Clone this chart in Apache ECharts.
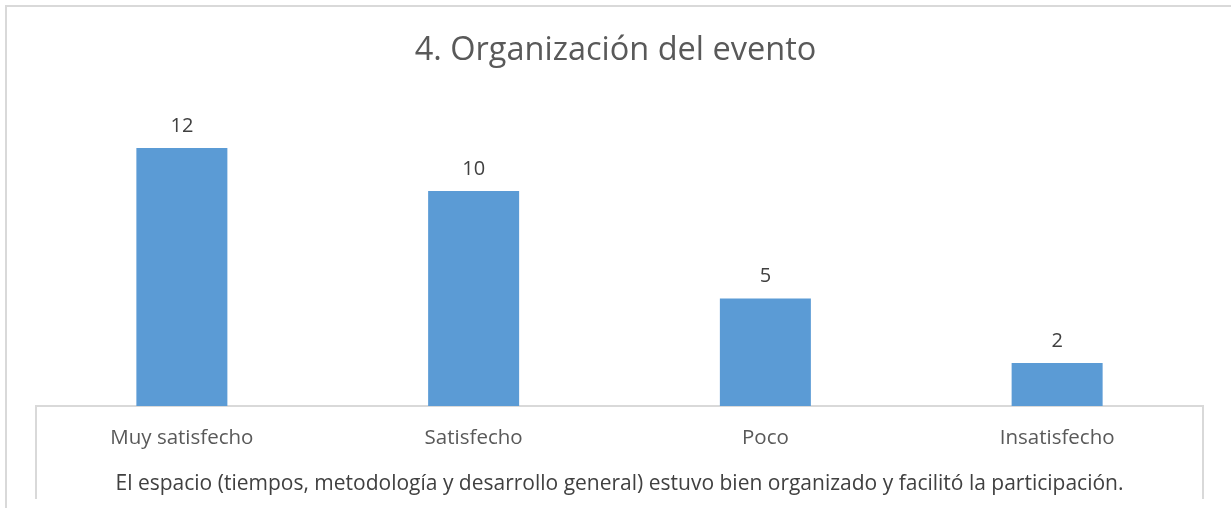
<!DOCTYPE html>
<html>
<head>
<meta charset="utf-8">
<script src="https://cdn.jsdelivr.net/npm/echarts@6/dist/echarts.min.js"></script>
<style>html,body{margin:0;padding:0;background:#fff;}#c{width:1231px;height:508px;}</style>
</head>
<body>
<div id="c"></div>
<script>
const titleText = '4. Organización del evento';
const categories = ['Muy satisfecho', 'Satisfecho', 'Poco', 'Insatisfecho'];
const values = [12, 10, 5, 2];
const axisName = 'El espacio (tiempos, metodología y desarrollo general) estuvo bien organizado y facilitó la participación.';

const FONT = '"Open Sans", sans-serif';
const chart = echarts.init(document.getElementById('c'));
chart.setOption({
  animation: false,
  backgroundColor: '#fff',
  title: {
    text: titleText,
    left: 'center',
    top: 29,
    textStyle: { fontFamily: FONT, fontSize: 32.5, fontWeight: 'normal', color: '#595959' }
  },
  grid: { left: 36, right: 28, top: 105, bottom: 102 },
  xAxis: {
    type: 'category',
    data: categories,
    axisLine: { show: false },
    axisTick: { show: false },
    axisLabel: { fontFamily: FONT, fontSize: 20.5, color: '#595959', margin: 22 },
    name: axisName,
    nameLocation: 'middle',
    nameGap: 68,
    nameTextStyle: { fontFamily: FONT, fontSize: 21, color: '#404040' }
  },
  yAxis: {
    type: 'value', min: 0, max: 14, interval: 2,
    show: false, splitLine: { show: false }
  },
  series: [{
    type: 'bar',
    data: values,
    barWidth: 91,
    itemStyle: { color: '#5B9BD5' },
    label: { show: true, position: 'top', distance: 12, fontFamily: FONT, fontSize: 20, color: '#404040' }
  }],
  graphic: [
    { type: 'rect', shape: { x: 6, y: 6, width: 1260, height: 540 }, style: { fill: 'none', stroke: '#D9D9D9', lineWidth: 2 }, silent: true },
    { type: 'polyline', shape: { points: [[36, 499], [36, 406], [1203, 406], [1203, 499]] }, style: { fill: 'none', stroke: '#D9D9D9', lineWidth: 2 }, silent: true }
  ]
});
</script>
</body>
</html>
